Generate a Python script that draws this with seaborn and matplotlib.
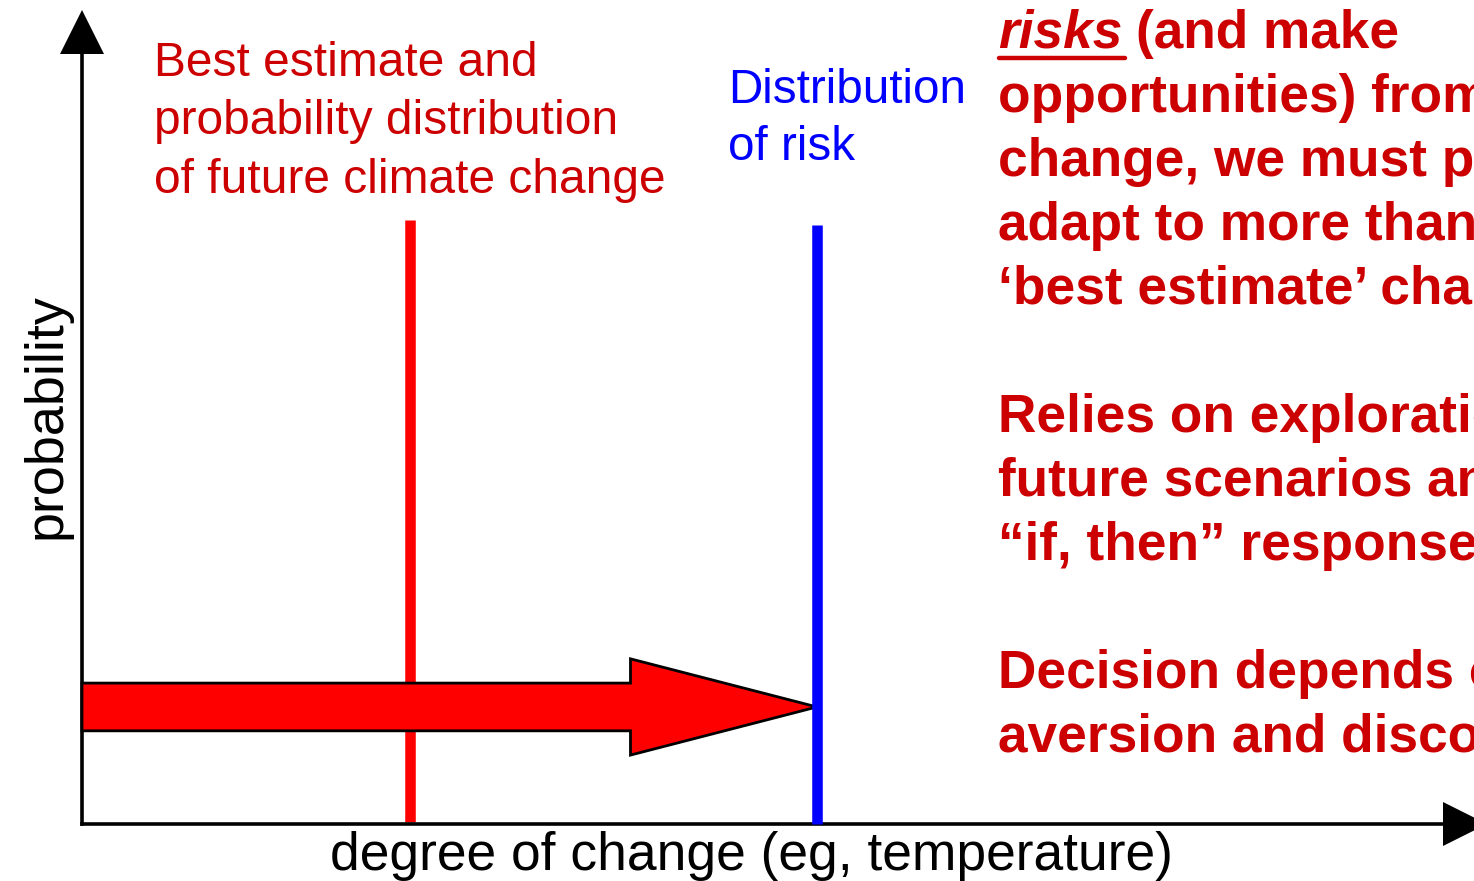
import numpy as np
import pandas as pd
import matplotlib.pyplot as plt
import seaborn as sns
from matplotlib.patches import FancyArrow
from matplotlib.lines import Line2D
from matplotlib.transforms import offset_copy

# x = degree of change (axis runs 0..10), y = probability (axis runs 0..1)
line_names = ['best estimate', 'risk']
line_x = [2.41, 5.40]
line_bottom = [0.003, 0.0]
line_top = [0.785, 0.778]
line_colors = ['#ff0000', '#0000ff']

# big red arrow from the axis to the risk line
arrow_start = 0.0
arrow_end = 5.40
arrow_head_start = 4.03
arrow_y = 0.152
arrow_shaft = 0.062
arrow_head = 0.125

red_label = ['Best estimate and', 'probability distribution', 'of future climate change']
blue_label = ['Distribution', 'of risk']
side_text = ['risks (and make',
             'opportunities) from climate',
             'change, we must plan and',
             'adapt to more than the',
             '\u2018best estimate\u2019 change.',
             '',
             'Relies on exploration of',
             'future scenarios and',
             '\u201cif, then\u201d responses',
             '',
             'Decision depends on risk',
             'aversion and discounting']

W, H = 1474, 881
sns.set_style('white')
plt.rcParams['font.family'] = ['Liberation Sans', 'DejaVu Sans']

fig = plt.figure(figsize=(W / 100, H / 100), dpi=100)
ax = fig.add_axes([82 / W, 1 - 824 / H, 1361 / W, 770 / H])
ax.set_xlim(0, 10)
ax.set_ylim(0, 1)

#vertical lines
df = pd.DataFrame({'name': np.repeat(line_names, 2),
                   'x': np.repeat(line_x, 2),
                   'y': np.ravel(list(zip(line_bottom, line_top)))})
sns.lineplot(data=df, x='x', y='y', hue='name', palette=line_colors,
             estimator=None, sort=False, lw=7.6, legend=False, ax=ax,
             solid_capstyle='butt', clip_on=False)
ax.lines[1].set_zorder(4)

arrow = FancyArrow(arrow_start, arrow_y, arrow_end - arrow_start, 0,
                   width=arrow_shaft, head_width=arrow_head,
                   head_length=arrow_end - arrow_head_start,
                   length_includes_head=True, fc='#ff0000', ec='black',
                   lw=2, zorder=3, clip_on=False)
ax.add_patch(arrow)

# axes with arrow heads
sns.despine(ax=ax)
for side in ['left', 'bottom']:
    ax.spines[side].set_linewidth(2.6)
    ax.spines[side].set_color('black')
ax.set_xticks([])
ax.set_yticks([])
ax.set_xlabel('')
ax.set_ylabel('')
ax.plot([1], [0], marker='>', ms=31.7, color='black', mew=0, clip_on=False,
        transform=offset_copy(ax.transAxes, fig=fig, x=22, y=0, units='dots'))
ax.plot([0], [1], marker='^', ms=31.7, color='black', mew=0, clip_on=False,
        transform=offset_copy(ax.transAxes, fig=fig, x=0, y=22, units='dots'))


def put(x, y, s, **kw):
    return fig.text(x / W, 1 - y / H, s, va='baseline', **kw)


for i, s in enumerate(red_label):
    put(154, 76 + 58.5 * i, s, color='#cc0000', fontsize=34.5)
for i, s in enumerate(blue_label):
    put(728, 103 + 57 * i, s, color='#0000ff', fontsize=34.3)

for i, s in enumerate(side_text):
    y = 48 + 64 * i
    if i == 0:
        first, rest = s.split(' ', 1)
        put(998, y, first, color='#cc0000', fontsize=38.3, fontweight='bold', fontstyle='italic')
        put(1136, y, rest, color='#cc0000', fontsize=38.3, fontweight='bold')
        fig.add_artist(Line2D([999 / W, 1125 / W], [1 - 58 / H, 1 - 58 / H],
                              color='#cc0000', lw=3.2))
    else:
        put(998, y, s, color='#cc0000', fontsize=38.3, fontweight='bold')

put(751, 870, 'degree of change (eg, temperature)', ha='center', fontsize=38.4, color='black')
fig.text(61 / W, 1 - 416 / H, 'probability', rotation=90, rotation_mode='anchor',
         ha='center', va='baseline', fontsize=38.8, color='black')

fig.savefig('out.png', dpi=100)
